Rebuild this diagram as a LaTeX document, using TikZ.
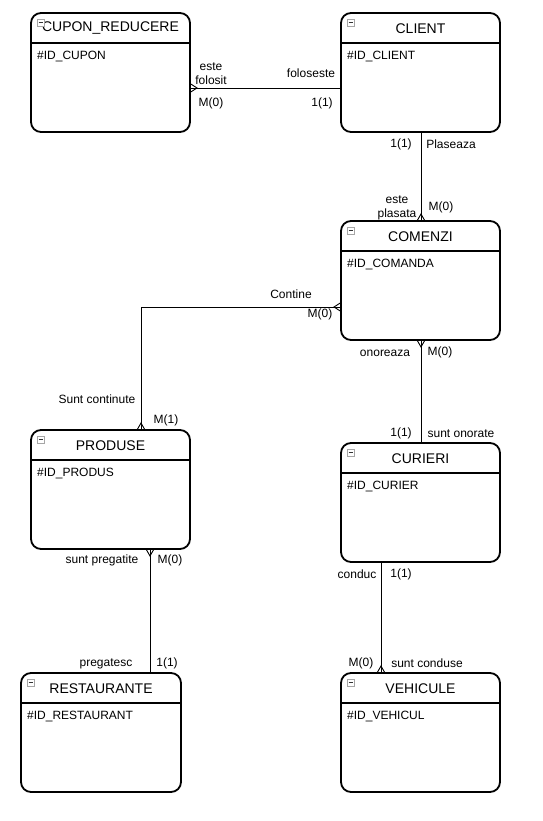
\documentclass[tikz,border=0pt]{standalone}
\usepackage{fontspec}
\setmainfont{Liberation Sans}
\usetikzlibrary{calc}
\tikzset{
  x=1pt, y=-1pt,
  entbox/.style={draw=black, line width=1.8pt, rounded corners=10pt, fill=white,
    inner sep=0pt, outer sep=0pt, minimum width=159pt, minimum height=119pt, anchor=north west},
  hdr/.style={line width=1.6pt},
  ttl/.style={font=\fontsize{14}{16}\selectfont, inner sep=0pt},
  attr/.style={font=\fontsize{12}{14}\selectfont, inner sep=0pt, anchor=west},
  lbl/.style={font=\fontsize{12}{14}\selectfont, inner sep=0pt, align=center},
  icon/.style={draw=gray!70, fill=white, line width=0.6pt, minimum size=7pt, inner sep=0pt},
  conn/.style={line width=0.9pt, black},
}
\newcommand{\entity}[6]{% name, x, y, width, title, attribute
  \node[entbox, minimum width=#4pt] (#1) at (#2,#3) {};
  \draw[hdr] ($(#1.north west)+(0,30)$) -- ($(#1.north east)+(0,30)$);
  \node[ttl] (#1-t) at ($(#1.north)+(0,15.5)$) {#5};
  \node[attr] (#1-a) at ($(#1.north west)+(6,43.5)$) {#6};
  \node[icon] (#1-i) at ($(#1.north west)+(9.5,9.5)$) {};
  \draw[gray!40!black, line width=0.7pt] ($(#1-i.center)+(-2,0)$) -- ($(#1-i.center)+(2,0)$);
}
\newcommand{\crowh}[2]{% horizontal: point, sign (+1 right, -1 left)
  \draw[conn] ($(#1)+(0,-4.5)$) -- ($(#1)+(#2*7,0)$) -- ($(#1)+(0,4.5)$);
}
\newcommand{\crowv}[2]{% vertical: point, sign (+1 down, -1 up)
  \draw[conn] ($(#1)+(-4,0)$) -- ($(#1)+(0,#2*7)$) -- ($(#1)+(4,0)$);
}
\begin{document}
\begin{tikzpicture}
\useasboundingbox (0,0) rectangle (542,821);
\fill[white] (0,0) rectangle (542,821);

\entity{cupon}{31}{13}{159}{CUPON\_REDUCERE}{\#ID\_CUPON}
\entity{client}{341}{13}{159}{CLIENT}{\#ID\_CLIENT}
\entity{comenzi}{341}{221}{159}{COMENZI}{\#ID\_COMANDA}
\entity{produse}{31}{430}{159}{PRODUSE}{\#ID\_PRODUS}
\entity{curieri}{341}{443}{159}{CURIERI}{\#ID\_CURIER}
\entity{rest}{21}{673}{160}{RESTAURANTE}{\#ID\_RESTAURANT}
\entity{vehicule}{341}{673}{159}{VEHICULE}{\#ID\_VEHICUL}

% connectors
\coordinate (c1a) at (cupon.east |- 0,88);
\coordinate (c1b) at (client.west |- 0,88);
\draw[conn] (c1a) -- (c1b);
\crowh{c1a}{1}

\coordinate (c2a) at (client.south -| 421,0);
\coordinate (c2b) at (comenzi.north -| 421,0);
\draw[conn] (c2a) -- (c2b);
\crowv{c2b}{-1}

\coordinate (c3a) at (comenzi.west |- 0,307);
\coordinate (c3b) at (produse.north -| 141,0);
\draw[conn] (c3a) -| (c3b);
\crowh{c3a}{-1}
\crowv{c3b}{-1}

\coordinate (c4a) at (comenzi.south -| 421,0);
\coordinate (c4b) at (curieri.north -| 421,0);
\draw[conn] (c4a) -- (c4b);
\crowv{c4a}{1}

\coordinate (c5a) at (produse.south -| 150,0);
\coordinate (c5b) at (rest.north -| 150,0);
\draw[conn] (c5a) -- (c5b);
\crowv{c5a}{1}

\coordinate (c6a) at (curieri.south -| 381,0);
\coordinate (c6b) at (vehicule.north -| 381,0);
\draw[conn] (c6a) -- (c6b);
\crowv{c6b}{-1}

% labels
\node[lbl] (l1) at (211,73.5) {este\\folosit};
\node[lbl] (l2) at (311,73.5) {foloseste};
\node[lbl] (l3) at (211,103.5) {M(0)};
\node[lbl] (l4) at (322,103.5) {1(1)};

\node[lbl] (l5) at (401,144.5) {1(1)};
\node[lbl] (l6) at (451,144.5) {Plaseaza};
\node[lbl] (l7) at (397,207.5) {este\\plasata};
\node[lbl] (l8) at (441,207.5) {M(0)};

\node[lbl] (l9) at (291,294.5) {Contine};
\node[lbl] (l10) at (320,314.5) {M(0)};
\node[lbl] (l11) at (97,399.5) {Sunt continute};
\node[lbl] (l12) at (166,420.5) {M(1)};

\node[lbl] (l13) at (385,353.5) {onoreaza};
\node[lbl] (l14) at (440,352.5) {M(0)};
\node[lbl] (l15) at (401,433.5) {1(1)};
\node[lbl] (l16) at (461,433.5) {sunt onorate};

\node[lbl] (l17) at (102,560.5) {sunt pregatite};
\node[lbl] (l18) at (170,560.5) {M(0)};
\node[lbl] (l19) at (106,663.5) {pregatesc};
\node[lbl] (l20) at (167,663.5) {1(1)};

\node[lbl] (l21) at (357,574.5) {conduc};
\node[lbl] (l22) at (401,574.5) {1(1)};
\node[lbl] (l23) at (361,663.5) {M(0)};
\node[lbl] (l24) at (427,663.5) {sunt conduse};
\end{tikzpicture}
\end{document}
